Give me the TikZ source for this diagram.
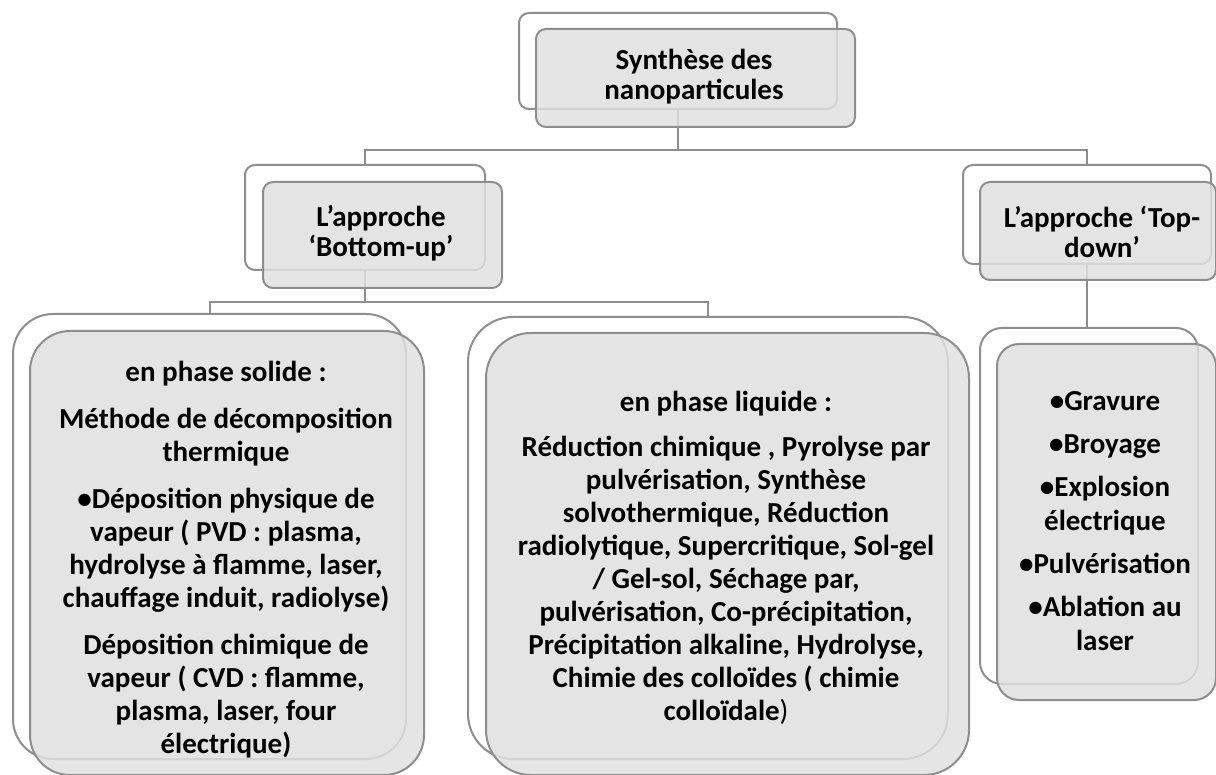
\documentclass[tikz,border=0pt]{standalone}
\usepackage{fontspec}
\setmainfont{Carlito}
\definecolor{linegray}{HTML}{8E8E8E}
\definecolor{boxgray}{HTML}{E0E0E0}
\begin{document}
\begin{tikzpicture}[x=1pt,y=-1pt,
  conn/.style={draw=linegray, line width=2pt},
  backbox/.style={draw=linegray, line width=2pt, fill=white, inner sep=0pt, anchor=north west},
  frontbox/.style={draw=linegray, line width=2pt, fill=boxgray, fill opacity=0.85, inner sep=0pt, anchor=north west},
  txt/.style={align=center, inner sep=0pt, font=\bfseries\fontsize{29}{33}\selectfont},
  ttl/.style={align=center, inner sep=0pt, font=\bfseries\fontsize{29}{30}\selectfont}
]
\useasboundingbox (0,0) rectangle (1216,775);

% back boxes
\node[backbox, minimum width=318pt, minimum height=96pt, rounded corners=10pt] (tb) at (518,12) {};
\node[backbox, minimum width=240pt, minimum height=105pt, rounded corners=10pt] (bu) at (244,164) {};
\node[backbox, minimum width=248pt, minimum height=99pt, rounded corners=10pt] (td) at (962,164) {};
\node[backbox, minimum width=393pt, minimum height=445pt, rounded corners=40pt] (ls) at (12,313) {};
\node[backbox, minimum width=480pt, minimum height=442pt, rounded corners=45pt] (lq) at (467,316) {};
\node[backbox, minimum width=218pt, minimum height=356pt, rounded corners=22pt] (rt) at (979,327) {};

% connectors
\coordinate (hbar1) at (0,150);
\coordinate (hbar2) at (0,302);
\draw[conn] (tb.south) -- (tb.south |- hbar1);
\draw[conn] (bu.north) -- (bu.north |- hbar1) -- (td.north |- hbar1) -- (td.north);
\draw[conn] (bu.south) -- (bu.south |- hbar2);
\draw[conn] (ls.north) -- (ls.north |- hbar2) -- (lq.north |- hbar2) -- (lq.north);
\draw[conn] (td.south) -- (td.south |- rt.north);

% front boxes
\node[frontbox, minimum width=319pt, minimum height=98pt, rounded corners=10pt] (tbf) at (535,28) {};
\node[frontbox, minimum width=239pt, minimum height=106pt, rounded corners=10pt] (buf) at (262,181) {};
\node[frontbox, minimum width=236pt, minimum height=98pt, rounded corners=10pt] (tdf) at (979,181) {};
\node[frontbox, minimum width=394pt, minimum height=444pt, rounded corners=40pt] (lsf) at (29,330) {};
\node[frontbox, minimum width=483pt, minimum height=442pt, rounded corners=45pt] (lqf) at (485,332) {};
\node[frontbox, minimum width=219pt, minimum height=356pt, rounded corners=22pt] (rtf) at (996,343) {};

% texts
\node[ttl] (tbt) at (694,77) {Synthèse des\\nanoparticules};
\node[ttl] (but) at (381,233) {L’approche\\‘Bottom-up’};
\node[ttl] (tdt) at (1102,232) {L’approche ‘Top-\\down’};
\node[txt] (lst) at (226,560) {en phase solide :\\[14pt]
Méthode de décomposition\\
thermique\\[14pt]
•Déposition physique de\\
vapeur ( PVD : plasma,\\
hydrolyse à flamme, laser,\\
chauffage induit, radiolyse)\\[14pt]
Déposition chimique de\\
vapeur ( CVD : flamme,\\
plasma, laser, four\\
électrique)};
\node[txt] (lqt) at (726,558) {en phase liquide :\\[12pt]
Réduction chimique , Pyrolyse par\\
pulvérisation, Synthèse\\
solvothermique, Réduction\\
radiolytique, Supercritique, Sol-gel\\
/ Gel-sol, Séchage par,\\
pulvérisation, Co-précipitation,\\
Précipitation alkaline, Hydrolyse,\\
Chimie des colloïdes ( chimie\\
colloïdale{\mdseries)}};
\node[txt, font=\bfseries\fontsize{29}{34}\selectfont] (rtt) at (1105,521) {•Gravure\\[9pt]
•Broyage\\[9pt]
•Explosion\\
électrique\\[9pt]
•Pulvérisation\\[9pt]
•Ablation au\\
laser};
\end{tikzpicture}
\end{document}
